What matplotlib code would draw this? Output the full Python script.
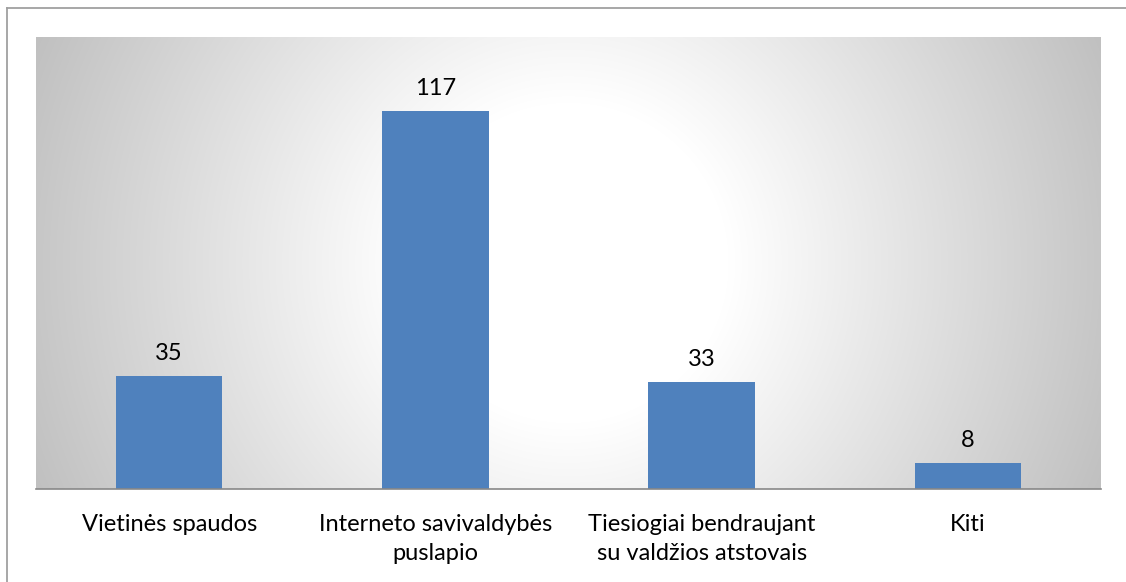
import numpy as np
import matplotlib
matplotlib.use("Agg")
import matplotlib.pyplot as plt
from matplotlib.lines import Line2D

categories = ["Vietinės spaudos", "Interneto savivaldybės\npuslapio",
              "Tiesiogiai bendraujant\nsu valdžios atstovais", "Kiti"]
values = [35, 117, 33, 8]

W, H = 1126, 582
dpi = 100
fig = plt.figure(figsize=(W / dpi, H / dpi), dpi=dpi)
fig.patch.set_facecolor("white")

# figure border (left and top)
fig.add_artist(Line2D([7.5 / W, 7.5 / W], [0, 1 - 8 / H], transform=fig.transFigure,
                      color="#A0A0A0", lw=1.3))
fig.add_artist(Line2D([7.5 / W, 1], [1 - 8 / H, 1 - 8 / H], transform=fig.transFigure,
                      color="#A0A0A0", lw=1.3))

left, right, top, bottom = 36, 1101, 37, 489
ax = fig.add_axes([left / W, 1 - bottom / H, (right - left) / W, (bottom - top) / H])

x = np.arange(len(categories))
ax.set_xlim(-0.5, len(categories) - 0.5)
ax.set_ylim(0, 140)

# radial gradient background
pw, ph = right - left, bottom - top
xx, yy = np.meshgrid(np.arange(pw) + 0.5, np.arange(ph) + 0.5)
cx, cy = pw / 2, ph / 2
r = np.hypot(xx - cx, yy - cy)
rmax = np.hypot(cx, cy)
t = np.clip((r - 160) / (rmax - 160), 0, 1)
g = (255 - (255 - 192) * t) / 255.0
img = np.dstack([g, g, g])
ax.imshow(img, extent=[-0.5, len(categories) - 0.5, 0, 140], aspect="auto",
          origin="upper", zorder=0, interpolation="bilinear")

bars = ax.bar(x, values, width=0.4, color="#4F81BD", zorder=2)

font = "Lato"
fs = 17
for xi, v in zip(x, values):
    ax.annotate(str(v), (xi, v), xytext=(0, 9), textcoords="offset points",
                ha="center", va="bottom", fontsize=fs, family=font, color="#000000")

ax.set_xticks(x)
ax.set_xticklabels(categories, fontsize=fs, family=font, color="#000000", linespacing=1.45)
ax.tick_params(axis="x", length=0, pad=18)
ax.set_yticks([])
for s in ["left", "right", "top"]:
    ax.spines[s].set_visible(False)
ax.spines["bottom"].set_color("#888888")
ax.spines["bottom"].set_linewidth(1.2)
ax.spines["bottom"].set_zorder(3)

fig.savefig("out.png", dpi=dpi)
